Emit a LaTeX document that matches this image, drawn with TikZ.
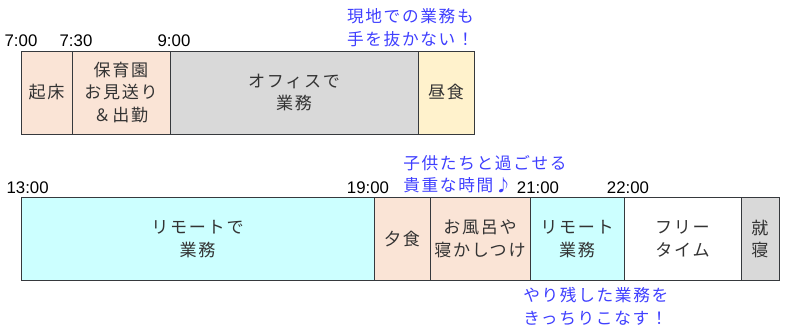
\documentclass[tikz,border=0pt]{standalone}
\usepackage{fontspec}
\setmainfont{Liberation Sans}
\newfontfamily\jpfont[LetterSpace=10]{Noto Sans CJK JP}
\usetikzlibrary{positioning}
\definecolor{peach}{HTML}{FAE4D6}
\definecolor{officegray}{HTML}{D9D9D9}
\definecolor{lunchyellow}{HTML}{FFF2CC}
\definecolor{remotecyan}{HTML}{CCFFFF}
\definecolor{edgegray}{HTML}{36393D}
\definecolor{textgray}{HTML}{333333}
\definecolor{noteblue}{HTML}{3F3FFF}
\tikzset{
  slot/.style={draw=edgegray, line width=0.75pt, rectangle, outer sep=0pt, inner sep=0pt,
    minimum height=62.25pt, align=center, text=textgray, anchor=north west,
    font=\jpfont\fontsize{12.8}{17}\selectfont},
  timelabel/.style={font=\fontsize{12.6}{14}\selectfont, inner sep=3pt, anchor=south},
  note/.style={text=noteblue, align=left, inner sep=0pt,
    font=\jpfont\fontsize{12.5}{17}\selectfont}
}

\begin{document}
\begin{tikzpicture}[x=0.75pt, y=-0.75pt]
\useasboundingbox (0,0) rectangle (789,333);
% morning
\node[slot, fill=peach, minimum width=51*0.75pt]       (wake)    at (21,51) {起床};
\node[slot, fill=peach, minimum width=98*0.75pt, right=0pt of wake] (daycare) {保育園\\お見送り\\＆出勤};
\node[slot, fill=officegray, minimum width=248*0.75pt, right=0pt of daycare] (office) {オフィスで\\業務};
\node[slot, fill=lunchyellow, minimum width=56*0.75pt, right=0pt of office]  (lunch)  {昼食};
\node[timelabel] (t0700) at (wake.north west)                 {7:00};
\node[timelabel] (t0730) at ([xshift=3pt]daycare.north west)  {7:30};
\node[timelabel] (t0900) at ([xshift=3pt]office.north west)   {9:00};
\node[note, align=left, anchor=south east] (onsite) at ([yshift=3pt]lunch.north east) {現地での業務も\\手を抜かない！};
% afternoon
\node[slot, fill=remotecyan, minimum width=353*0.75pt] (remote)  at (21,197.5) {リモートで\\業務};
\node[slot, fill=peach, minimum width=56*0.75pt, right=0pt of remote]        (dinner)  {夕食};
\node[slot, fill=peach, minimum width=100*0.75pt, right=0pt of dinner]       (bath)    {お風呂や\\寝かしつけ};
\node[slot, fill=remotecyan, minimum width=94*0.75pt, right=0pt of bath]     (remotetoo) {リモート\\業務};
\node[slot, fill=white, minimum width=117*0.75pt, right=0pt of remotetoo]    (free)    {フリー\\タイム};
\node[slot, fill=officegray, minimum width=38*0.75pt, right=0pt of free]     (sleep)   {就\\寝};
\node[timelabel] (t1300) at ([xshift=5pt]remote.north west)     {13:00};
\node[timelabel] (t1900) at ([xshift=-4.5pt]dinner.north west)  {19:00};
\node[timelabel] (t2100) at ([xshift=6pt]remotetoo.north west)  {21:00};
\node[timelabel] (t2200) at ([xshift=3pt]free.north west)       {22:00};
\node[note, anchor=south west] (kids) at ([xshift=-27*0.75pt, yshift=3pt]bath.north west) {子供たちと過ごせる\\貴重な時間♪};
\node[note, anchor=north west] (leftover) at ([xshift=-7*0.75pt, yshift=-5pt]remotetoo.south west) {やり残した業務を\\きっちりこなす！};
\end{tikzpicture}
\end{document}
